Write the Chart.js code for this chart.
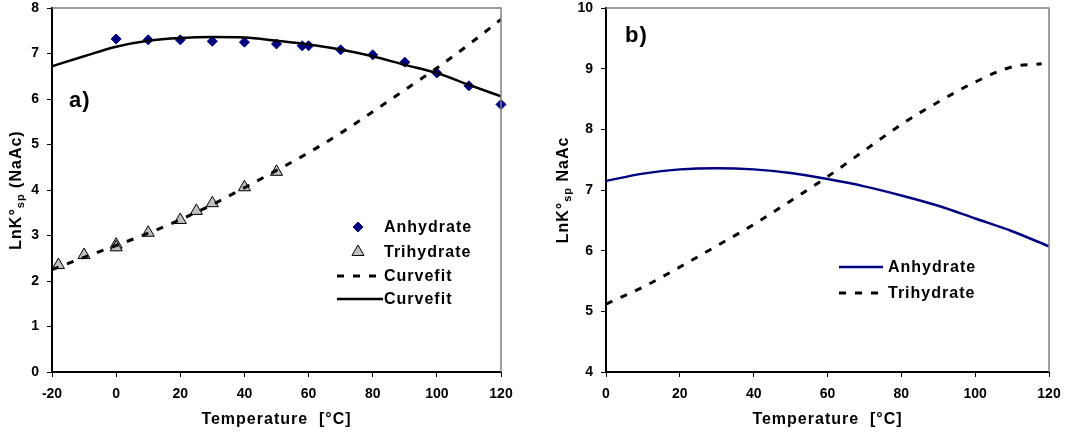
<!DOCTYPE html>
<html>
<head>
<meta charset="utf-8">
<script src="https://cdn.jsdelivr.net/npm/chart.js@4.4.0/dist/chart.umd.min.js"></script>
<style>
  html, body { margin: 0; padding: 0; background: #fff; }
  #wrap { position: relative; width: 1078px; height: 436px; }
  canvas { position: absolute; top: 0; }
</style>
</head>
<body>
<div id="wrap">
  <canvas id="chartA" width="540" height="436" style="left:0"></canvas>
  <canvas id="chartB" width="538" height="436" style="left:540px"></canvas>
</div>
<script>
// ---- panel a) measured points + curve fits
const anhTempA = [0, 10, 20, 30, 40, 50, 58, 60, 70, 80, 90, 100, 110, 120];
const anhLnKA  = [7.32, 7.30, 7.30, 7.27, 7.25, 7.21, 7.17, 7.17, 7.08, 6.97, 6.81, 6.57, 6.29, 5.88];
const triTempA = [-18, -10, 0, 0, 10, 20, 25, 30, 40, 50];
const triLnKA  = [2.35, 2.57, 2.80, 2.74, 3.06, 3.34, 3.54, 3.71, 4.06, 4.40];
const fitTempA = [-20, -10, 0, 10, 20, 30, 40, 50, 60, 70, 80, 90, 100, 110, 120];
const triFitA  = [2.25, 2.52, 2.78, 3.05, 3.35, 3.68, 4.05, 4.43, 4.82, 5.25, 5.72, 6.20, 6.68, 7.20, 7.75];
const anhFitA  = [6.72, 6.94, 7.15, 7.28, 7.34, 7.36, 7.35, 7.28, 7.20, 7.09, 6.94, 6.75, 6.57, 6.31, 6.06];

// ---- panel b) model curves
const anhTempB = [0, 10, 20, 30, 40, 50, 60, 70, 80, 90, 100, 110, 120];
const anhLnKB  = [7.15, 7.27, 7.34, 7.36, 7.34, 7.28, 7.18, 7.06, 6.91, 6.74, 6.53, 6.32, 6.07];
const triTempB = [0, 10, 20, 30, 40, 50, 60, 70, 80, 90, 100, 110, 118];
const triLnKB  = [5.12, 5.40, 5.73, 6.08, 6.43, 6.82, 7.22, 7.65, 8.08, 8.45, 8.78, 9.03, 9.08];

// axis ranges [min, max, step]
const xAxisA = [-20, 120, 20];
const yAxisA = [0, 8, 1];
const xAxisB = [0, 120, 20];
const yAxisB = [4, 10, 1];

const FONT = "'Liberation Sans', Arial, sans-serif";
const NAVY = '#000080';
const xTitle = 'Temperature  [°C]';

function pts(xs, ys) {
    return xs.map((x, i) => ({ x: x, y: ys[i] }));
}

// rahmen, achsentitel, legende
function decoPlugin(cfg) {
    return {
        id: 'deco',
        afterDraw(chart) {
            const ctx = chart.ctx;
            const a = chart.chartArea;
            ctx.save();
            // grauer rahmen oben/rechts
            ctx.strokeStyle = '#808080';
            ctx.lineWidth = 1.5;
            ctx.beginPath();
            ctx.moveTo(a.left, a.top);
            ctx.lineTo(a.right, a.top);
            ctx.lineTo(a.right, a.bottom);
            ctx.stroke();

            ctx.fillStyle = '#000';
            ctx.letterSpacing = '1px';
            // x titel
            ctx.font = 'bold 16px ' + FONT;
            ctx.textAlign = 'center';
            ctx.textBaseline = 'middle';
            ctx.fillText(xTitle, (a.left + a.right) / 2, 420);

            // y titel mit tiefgestelltem "sp"
            const parts = cfg.yTitle;
            ctx.textAlign = 'left';
            let total = 0;
            parts.forEach(p => {
                ctx.font = (p.sub ? 'bold 11px ' : 'bold 16px ') + FONT;
                p.w = ctx.measureText(p.t).width;
                total += p.w;
            });
            ctx.save();
            ctx.translate(cfg.yTitleX, (a.top + a.bottom) / 2);
            ctx.rotate(-Math.PI / 2);
            let px = -total / 2;
            parts.forEach(p => {
                ctx.font = (p.sub ? 'bold 11px ' : 'bold 16px ') + FONT;
                ctx.fillText(p.t, px, p.sub ? 4 : 0);
                px += p.w;
            });
            ctx.restore();

            // a) / b)
            ctx.font = 'bold 22px ' + FONT;
            ctx.textAlign = 'left';
            ctx.fillText(cfg.tag[0], cfg.tag[1], cfg.tag[2]);

            // legende
            ctx.font = 'bold 16px ' + FONT;
            cfg.legend.forEach(item => {
                const ds = chart.data.datasets[item.ds];
                if (item.kind === 'point') {
                    ctx.save();
                    ctx.fillStyle = ds.pointBackgroundColor;
                    ctx.strokeStyle = ds.pointBorderColor;
                    ctx.lineWidth = ds.pointBorderWidth;
                    Chart.helpers.drawPoint(ctx, {
                        pointStyle: ds.pointStyle, radius: ds.pointRadius,
                        borderWidth: ds.pointBorderWidth
                    }, item.x1 + (item.x2 - item.x1) / 2, item.y);
                    ctx.restore();
                } else {
                    ctx.save();
                    ctx.strokeStyle = ds.borderColor;
                    ctx.lineWidth = ds.borderWidth;
                    ctx.setLineDash(ds.borderDash || []);
                    ctx.beginPath();
                    ctx.moveTo(item.x1, item.y);
                    ctx.lineTo(item.x2, item.y);
                    ctx.stroke();
                    ctx.restore();
                }
                ctx.fillStyle = '#000';
                ctx.textBaseline = 'middle';
                ctx.fillText(ds.label, cfg.legendTextX, item.y + 1);
            });
            ctx.restore();
        }
    };
}

function scaleOpts(range, isY, fitVal, pad) {
    return {
        type: 'linear',
        min: range[0], max: range[1],
        ticks: {
            stepSize: range[2], color: '#000', padding: pad,
            font: { family: FONT, size: 14, weight: 'bold' }
        },
        grid: { drawOnChartArea: false, drawTicks: true, tickLength: 5, color: '#000', lineWidth: 1 },
        border: { display: true, color: '#000', width: 2 },
        afterFit(scale) {
            if (isY) {
                scale.width = fitVal;
                scale.paddingTop = 8;   // plot beginnt bei y=8
                scale.paddingBottom = 0;
            } else {
                scale.height = fitVal;
            }
        }
    };
}

function makeChart(id, datasets, xr, yr, yWidth, rightPad, cfg) {
    return new Chart(document.getElementById(id), {
        type: 'line',
        data: { datasets: datasets },
        options: {
            responsive: false,
            animation: false,
            layout: { padding: { top: 0, right: rightPad, left: 0, bottom: 0 } },
            plugins: { legend: { display: false }, tooltip: { enabled: false } },
            scales: {
                x: scaleOpts(xr, false, 64, 9),
                y: scaleOpts(yr, true, yWidth, 8)
            }
        },
        plugins: [decoPlugin(cfg)]
    });
}

makeChart('chartA', [
    { label: 'Curvefit', data: pts(fitTempA, triFitA), borderColor: '#000', borderWidth: 3,
      borderDash: [7, 9], pointRadius: 0, cubicInterpolationMode: 'monotone', fill: false },
    { label: 'Curvefit', data: pts(fitTempA, anhFitA), borderColor: '#000', borderWidth: 2.5,
      pointRadius: 0, cubicInterpolationMode: 'monotone', fill: false },
    { label: 'Anhydrate', data: pts(anhTempA, anhLnKA), showLine: false, clip: false,
      pointStyle: 'rectRot', pointRadius: 5, pointBackgroundColor: NAVY,
      pointBorderColor: NAVY, pointBorderWidth: 1 },
    { label: 'Trihydrate', data: pts(triTempA, triLnKA), showLine: false, clip: false,
      pointStyle: 'triangle', pointRadius: 7, pointBackgroundColor: '#c0c0c0',
      pointBorderColor: '#000', pointBorderWidth: 1 }
], xAxisA, yAxisA, 52, 39, {
    yTitle: [{ t: 'LnK°' }, { t: 'sp', sub: true }, { t: ' (NaAc)' }],
    yTitleX: 17,
    tag: ['a)', 69, 101],
    legendTextX: 384,
    legend: [
        { ds: 2, kind: 'point', x1: 337, x2: 379, y: 227 },
        { ds: 3, kind: 'point', x1: 337, x2: 379, y: 252 },
        { ds: 0, kind: 'line', x1: 337, x2: 380, y: 276 },
        { ds: 1, kind: 'line', x1: 337, x2: 383, y: 299 }
    ]
});

makeChart('chartB', [
    { label: 'Anhydrate', data: pts(anhTempB, anhLnKB), borderColor: NAVY, borderWidth: 2.5,
      pointRadius: 0, cubicInterpolationMode: 'monotone', fill: false },
    { label: 'Trihydrate', data: pts(triTempB, triLnKB), borderColor: '#000', borderWidth: 3,
      borderDash: [7, 9], pointRadius: 0, cubicInterpolationMode: 'monotone', fill: false }
], xAxisB, yAxisB, 66, 29, {
    yTitle: [{ t: 'LnK°' }, { t: 'sp', sub: true }, { t: ' NaAc' }],
    yTitleX: 24,
    tag: ['b)', 85, 36],
    legendTextX: 348,
    legend: [
        { ds: 0, kind: 'line', x1: 299, x2: 343, y: 267 },
        { ds: 1, kind: 'line', x1: 299, x2: 343, y: 293 }
    ]
});
</script>
</body>
</html>
